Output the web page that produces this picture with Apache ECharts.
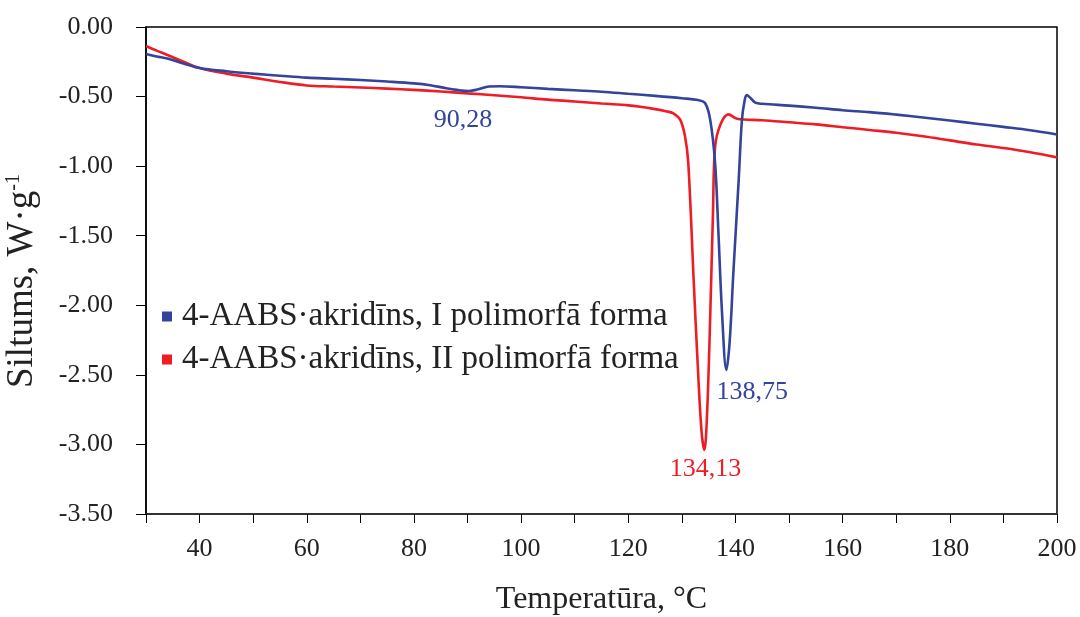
<!DOCTYPE html>
<html>
<head>
<meta charset="utf-8">
<script src="https://cdn.jsdelivr.net/npm/echarts@6/dist/echarts.min.js"></script>
<style>
html,body{margin:0;padding:0;background:#fff;}
#chart{width:1080px;height:617px;}
</style>
</head>
<body>
<div id="chart"></div>
<script>
// Form I (blue) — temperature (°C) and heat flow (W·g-1)
var tempI = [30,32,34,37,40,45,50,55,60,65,70,75,80,83,86,88,90.28,92,94,96,100,105,110,115,120,125,130,133,134.35,135.3,136.2,136.8,137.5,138.3,138.9,139.6,140.6,141.2,141.7,142.1,142.8,143.7,145,150,155,160,165,170,175,180,185,190,195,200];
var heatI = [-0.194,-0.212,-0.227,-0.262,-0.295,-0.318,-0.335,-0.350,-0.364,-0.372,-0.381,-0.392,-0.405,-0.418,-0.440,-0.452,-0.460,-0.448,-0.428,-0.426,-0.433,-0.445,-0.455,-0.465,-0.480,-0.495,-0.512,-0.525,-0.548,-0.67,-0.98,-1.46,-2.06,-2.465,-2.27,-1.77,-1.10,-0.67,-0.53,-0.489,-0.51,-0.544,-0.552,-0.565,-0.580,-0.598,-0.612,-0.630,-0.650,-0.672,-0.695,-0.718,-0.742,-0.772];
// Form II (red)
var tempII = [30,32,34,37,40,45,50,55,60,65,70,75,80,85,90,95,100,105,110,115,120,122.2,125,127,128.4,129.7,130.6,131.2,132.2,133.1,133.7,134.2,134.7,135.3,135.8,136.2,137.2,138.7,140.3,145,150,155,160,165,170,175,180,185,190,195,200];
var heatII = [-0.137,-0.170,-0.201,-0.250,-0.295,-0.335,-0.364,-0.395,-0.420,-0.428,-0.435,-0.443,-0.452,-0.463,-0.477,-0.490,-0.505,-0.522,-0.535,-0.550,-0.563,-0.573,-0.590,-0.605,-0.620,-0.668,-0.788,-0.98,-1.82,-2.54,-2.92,-3.04,-2.78,-2.06,-1.34,-0.86,-0.70,-0.628,-0.66,-0.670,-0.685,-0.700,-0.720,-0.740,-0.760,-0.785,-0.815,-0.845,-0.870,-0.900,-0.937];
var seriesNames = ['4-AABS·akridīns, I polimorfā forma','4-AABS·akridīns, II polimorfā forma'];
var peakLabels = ['90,28','138,75','134,13'];
var xTicks = {min:30, max:200, interval:10};
var yTicks = {min:-3.5, max:0, interval:0.5};

function zip(a,b){var r=[];for(var i=0;i<a.length;i++){r.push([a[i],b[i]]);}return r;}
var FONT = 'Liberation Serif';
var BLUE = '#34449c', RED = '#ee1c25';

var chart = echarts.init(document.getElementById('chart'), null, {renderer:'canvas'});
chart.setOption({
  animation:false,
  backgroundColor:'#fff',
  grid:{left:146, right:23, top:27, bottom:103, outerBoundsMode:'none', containLabel:false,
    show:true, borderColor:'#000', borderWidth:1.5, backgroundColor:'transparent'},
  legend:{
    orient:'vertical', left:162, top:300, padding:0, itemGap:10,
    icon:'rect', itemWidth:10, itemHeight:10,
    textStyle:{fontFamily:FONT, fontSize:33, color:'#222', padding:[0,0,0,5]},
    data:seriesNames
  },
  xAxis:{
    type:'value', min:xTicks.min, max:xTicks.max, interval:xTicks.interval,
    axisLine:{show:true, onZero:false, lineStyle:{color:'#333', width:2}},
    axisTick:{show:true, length:9, lineStyle:{color:'#000', width:1}},
    axisLabel:{margin:22, fontFamily:FONT, fontSize:26, color:'#222',
      formatter:function(v){return (v%20===0)?String(v):'';}},
    splitLine:{show:false},
    name:'Temperatūra, °C', nameLocation:'middle', nameGap:70,
    nameTextStyle:{fontFamily:FONT, fontSize:32, color:'#222'}
  },
  yAxis:{
    type:'value', min:yTicks.min, max:yTicks.max, interval:yTicks.interval,
    axisLine:{show:true, onZero:false, lineStyle:{color:'#000', width:1.5}},
    axisTick:{show:true, length:10, lineStyle:{color:'#000', width:1}},
    axisLabel:{margin:33, fontFamily:FONT, fontSize:26, color:'#222',
      formatter:function(v){var s=Math.abs(v).toFixed(2);return (v<-1e-9?'-':'')+s;}},
    splitLine:{show:false}
  },
  graphic:[{
    type:'text', x:22, y:281,
    rotation:Math.PI/2,
    style:{
      text:'{a|Siltums, W·g}{s|-1}',
      align:'center', verticalAlign:'middle',
      rich:{
        a:{fontFamily:FONT, fontSize:37, fill:'#222'},
        s:{fontFamily:FONT, fontSize:20, fill:'#222', verticalAlign:'top', padding:[0,0,16,0]}
      }
    }
  }],
  series:[
    {
      name:seriesNames[0], type:'line', data:zip(tempI,heatI), showSymbol:false, symbol:'none',
      smooth:0.35, lineStyle:{color:BLUE, width:2.6}, itemStyle:{color:BLUE}, z:3,
      markPoint:{symbol:'circle', symbolSize:0, silent:true,
        data:[
          {coord:[90.28,-0.46], label:{show:true, formatter:peakLabels[0], offset:[-6,29], fontFamily:FONT, fontSize:26, color:BLUE}},
          {coord:[138.3,-2.465], label:{show:true, formatter:peakLabels[1], offset:[26,22], fontFamily:FONT, fontSize:26, color:BLUE}}
        ]}
    },
    {
      name:seriesNames[1], type:'line', data:zip(tempII,heatII), showSymbol:false, symbol:'none',
      smooth:0.35, lineStyle:{color:RED, width:2.6}, itemStyle:{color:RED}, z:2,
      markPoint:{symbol:'circle', symbolSize:0, silent:true,
        data:[
          {coord:[134.2,-3.04], label:{show:true, formatter:peakLabels[2], offset:[1,19], fontFamily:FONT, fontSize:26, color:RED}}
        ]}
    }
  ]
});
</script>
</body>
</html>
